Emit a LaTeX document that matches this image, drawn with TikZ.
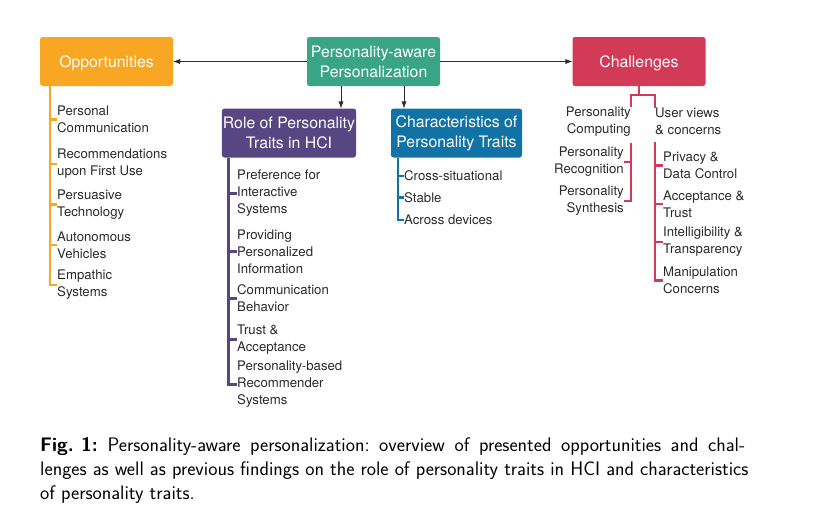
\documentclass[tikz,border=0pt]{standalone}
\usepackage{fontspec}
\setmainfont{TeX Gyre Heros}
\usetikzlibrary{arrows.meta,positioning}
\definecolor{OppOrange}{HTML}{F9A623}
\definecolor{CoreGreen}{HTML}{3AA585}
\definecolor{RolePurple}{HTML}{584682}
\definecolor{TraitBlue}{HTML}{1173A5}
\definecolor{ChalRed}{HTML}{D23A58}
\definecolor{Ink}{HTML}{2A2A2A}

\begin{document}
\begin{tikzpicture}[x=1pt,y=-1pt,>={Latex[length=7pt,width=5pt]},
    headbox/.style={rounded corners=2.5pt,text=white,minimum width=133pt,minimum height=49pt,align=center,inner sep=1pt,font=\fontsize{15.8}{20}\selectfont},
    oneline/.style={text height=11.6pt,text depth=0pt},
    item/.style={inner sep=0pt,text=Ink,font=\fontsize{13.2}{17}\selectfont},
    branch/.style={line width=2.6pt}]
    \useasboundingbox (0,0) rectangle (824,522);
    % top row
    \node[headbox,fill=CoreGreen] (core) at (373.5,61.5) {Personality-aware\\Personalization};
    \node[headbox,oneline,fill=OppOrange] (opp) at (106.5,61.5) {Opportunities};
    \node[headbox,oneline,fill=ChalRed] (chal) at (639,61.5) {Challenges};
    \node[headbox,fill=RolePurple,minimum width=132pt] (role) at (289,133) {Role of Personality\\Traits in HCI};
    \node[headbox,fill=TraitBlue,minimum width=131pt] (trait) at (456.5,133) {Characteristics of\\Personality Traits};
    \draw[->,Ink] (core.west) -- (opp.east);
    \draw[->,Ink] (core.east) -- (chal.west);
    \draw[->,Ink] ([xshift=-32.5pt]core.south) coordinate (a) -- (a |- role.north);
    \draw[->,Ink] ([xshift=30.5pt]core.south) coordinate (b) -- (b |- trait.north);

    % opportunities
    \node[item,anchor=west,align=left] (o1) at (57,119.5) {Personal\\Communication};
    \node[item,anchor=west,align=left] (o2) at (57,164) {Recommendations\\upon First Use};
    \node[item,anchor=west,align=left] (o3) at (57,204.5) {Persuasive\\Technology};
    \node[item,anchor=west,align=left] (o4) at (57,245) {Autonomous\\Vehicles};
    \node[item,anchor=west,align=left] (o5) at (57,285) {Empathic\\Systems};
    \draw[branch,OppOrange] ([xshift=10pt]opp.south west) coordinate (oTop) |- (o5.west);
    \foreach \n in {1,...,4}
      \draw[branch,OppOrange] (o\n.west -| oTop) -- (o\n.west);

    % role of personality traits
    \node[item,anchor=west,align=left] (r1) at (237,193.5) {Preference for\\Interactive\\Systems};
    \node[item,anchor=west,align=left] (r2) at (237,251.5) {Providing\\Personalized\\Information};
    \node[item,anchor=west,align=left] (r3) at (237,298.5) {Communication\\Behavior};
    \node[item,anchor=west,align=left] (r4) at (237,339.5) {Trust \&\\Acceptance};
    \node[item,anchor=west,align=left] (r5) at (237,384.5) {Personality-based\\Recommender\\Systems};
    \draw[branch,RolePurple] ([xshift=7pt]role.south west) coordinate (rTop) |- (r5.west);
    \foreach \n in {1,...,4}
      \draw[branch,RolePurple] (r\n.west -| rTop) -- (r\n.west);

    % characteristics
    \node[item,anchor=west] (t1) at (404,176) {Cross-situational};
    \node[item,anchor=west] (t2) at (404,197.5) {Stable};
    \node[item,anchor=west] (t3) at (404,220) {Across devices};
    \draw[branch,TraitBlue] ([xshift=7pt]trait.south west) coordinate (tTop) |- (t3.west);
    \foreach \n in {1,2}
      \draw[branch,TraitBlue] (t\n.west -| tTop) -- (t\n.west);

    % challenges
    \node[item,anchor=east,align=right] (pc) at (631,121.5) {Personality\\Computing};
    \node[item,anchor=west,align=left] (uv) at (655,121.5) {User views\\\& concerns};
    \coordinate (fork) at (639,95);
    \draw[branch,ChalRed] (chal.south) -- (fork);
    \draw[branch,ChalRed] (pc.north east) |- (fork) -| (uv.north west);

    \node[item,anchor=east,align=right] (p1) at (624,162) {Personality\\Recognition};
    \node[item,anchor=east,align=right] (p2) at (624,201) {Personality\\Synthesis};
    \coordinate (pTop) at ([yshift=-7pt]pc.south east);
    \draw[branch,ChalRed] (pTop) |- (p2.east);
    \draw[branch,ChalRed] (p1.east -| pTop) -- (p1.east);

    \node[item,anchor=west,align=left] (u1) at (663,165.5) {Privacy \&\\Data Control};
    \node[item,anchor=west,align=left] (u2) at (663,204) {Acceptance \&\\Trust};
    \node[item,anchor=west,align=left] (u3) at (663,242) {Intelligibility \&\\Transparency};
    \node[item,anchor=west,align=left] (u4) at (663,280.5) {Manipulation\\Concerns};
    \coordinate (uTop) at ([yshift=-7pt]uv.south west);
    \draw[branch,ChalRed] (uTop) |- (u4.west);
    \foreach \n in {1,2,3}
      \draw[branch,ChalRed] (u\n.west -| uTop) -- (u\n.west);

    % caption
    \node[anchor=north west,inner sep=0pt,align=left,font=\sffamily\frenchspacing\fontsize{19.6}{24}\selectfont] (cap) at (40,437.5)
      {\makebox[705pt][s]{\mbox{\textbf{Fig. 1:}} Personality-aware personalization: overview of presented opportunities and chal-}\\
       lenges as well as previous findings on the role of personality traits in HCI and characteristics\\
       of personality traits.};
  \end{tikzpicture}
\end{document}
